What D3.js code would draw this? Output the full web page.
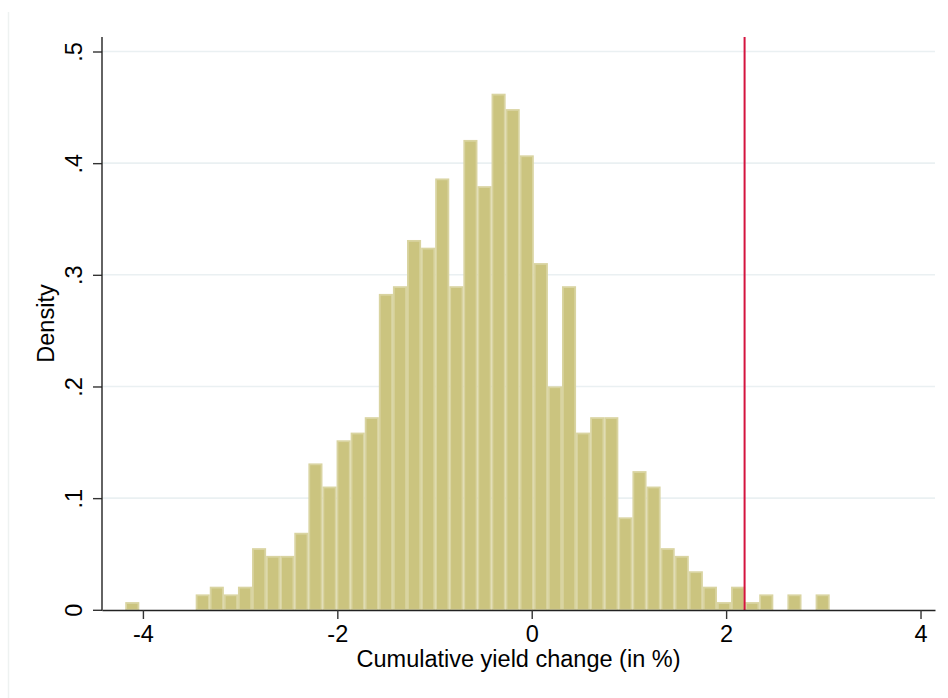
<!DOCTYPE html>
<html>
<head>
<meta charset="utf-8">
<script src="https://cdn.jsdelivr.net/npm/d3@7"></script>
<style>
  html, body { margin: 0; padding: 0; background: #ffffff; }
  svg { display: block; }
  text { font-family: "Liberation Sans", Arial, Helvetica, sans-serif; fill: #000; }
</style>
</head>
<body>
<svg id="chart" width="948" height="698"></svg>
<script>
// Histogram of simulated cumulative yield changes (N = 1000, 50 equal-width bins)
const binStart = -4.182;   // left edge of the first bin (in %)
const binWidth = 0.14495;  // bin width (in %)
const densities = [
  0.0069, 0, 0, 0, 0, 0.0138, 0.0207, 0.0138, 0.0207, 0.0552,
  0.0483, 0.0483, 0.0690, 0.1311, 0.1104, 0.1518, 0.1587, 0.1725, 0.2829, 0.2898,
  0.3312, 0.3243, 0.3863, 0.2898, 0.4208, 0.3794, 0.4622, 0.4484, 0.4070, 0.3105,
  0.2001, 0.2898, 0.1587, 0.1725, 0.1725, 0.0828, 0.1242, 0.1104, 0.0552, 0.0483,
  0.0345, 0.0207, 0.0069, 0.0207, 0.0069, 0.0138, 0, 0.0138, 0, 0.0138
];
const observedChange = 2.19;   // reference value marked with a vertical line
const xTicks = [-4, -2, 0, 2, 4];
const xTickLabels = ["-4", "-2", "0", "2", "4"];
const yTicks = [0, 0.1, 0.2, 0.3, 0.4, 0.5];
const yTickLabels = ["0", ".1", ".2", ".3", ".4", ".5"];
const xTitle = "Cumulative yield change (in %)";
const yTitle = "Density";

const bins = densities.map((d, i) => ({
  x0: binStart + i * binWidth,
  x1: binStart + (i + 1) * binWidth,
  density: d
}));

const svg = d3.select("#chart");
const plot = { left: 102, right: 935, top: 37, bottom: 610 };

const x = d3.scaleLinear().domain([-4.421, 4.149]).range([plot.left, plot.right]);
const y = d3.scaleLinear().domain([0, 0.5]).range([609.8, 51.5]);

// faint outer frame on the left edge
svg.append("line")
  .attr("x1", 8.5).attr("x2", 8.5).attr("y1", 12).attr("y2", 698)
  .attr("stroke", "#eef2f1").attr("stroke-width", 1.5);

// horizontal grid lines
svg.append("g").selectAll("line")
  .data(yTicks.filter(t => t > 0))
  .join("line")
  .attr("x1", plot.left).attr("x2", plot.right)
  .attr("y1", d => y(d)).attr("y2", d => y(d))
  .attr("stroke", "#eaf0f2").attr("stroke-width", 1.6);

// bars
svg.append("g").selectAll("rect")
  .data(bins.filter(b => b.density > 0))
  .join("rect")
  .attr("x", d => x(d.x0) + 0.9)
  .attr("width", d => x(d.x1) - x(d.x0) - 1.8)
  .attr("y", d => y(d.density) + 0.9)
  .attr("height", d => y(0) - y(d.density) - 0.9)
  .attr("fill", "#cbc47f")
  .attr("stroke", "#d9d4a1")
  .attr("stroke-width", 1.8);

// vertical reference line
svg.append("line")
  .attr("x1", x(observedChange)).attr("x2", x(observedChange))
  .attr("y1", plot.top).attr("y2", plot.bottom)
  .attr("stroke", "#d4143f").attr("stroke-width", 2);

const fontSize = 23.5;

// x axis
const xAxis = svg.append("g")
  .attr("transform", `translate(0,${plot.bottom})`)
  .call(d3.axisBottom(x).tickValues(xTicks)
    .tickFormat((d, i) => xTickLabels[i]).tickSize(9).tickSizeOuter(0));
xAxis.select(".domain").attr("stroke", "#222").attr("stroke-width", 1.4);
xAxis.selectAll(".tick line").attr("stroke", "#333").attr("stroke-width", 1.4);
xAxis.selectAll(".tick text")
  .attr("y", 32).attr("dy", null)
  .style("font-size", fontSize + "px")
  .style("font-family", '"Liberation Sans", Arial, sans-serif')
  .attr("fill", "#000");

// y axis
const yAxis = svg.append("g")
  .attr("transform", `translate(${plot.left},0)`)
  .call(d3.axisLeft(y).tickValues(yTicks)
    .tickFormat((d, i) => yTickLabels[i]).tickSize(9).tickSizeOuter(0));
yAxis.select(".domain").remove();
yAxis.append("line")
  .attr("x1", 0).attr("x2", 0).attr("y1", plot.top).attr("y2", plot.bottom + 0.7)
  .attr("stroke", "#222").attr("stroke-width", 1.4);
yAxis.selectAll(".tick line").attr("stroke", "#333").attr("stroke-width", 1.4);
yAxis.selectAll(".tick text")
  .attr("x", null).attr("dy", null)
  .attr("text-anchor", "middle")
  .attr("transform", "translate(-20,0) rotate(-90)")
  .style("font-size", fontSize + "px")
  .style("font-family", '"Liberation Sans", Arial, sans-serif')
  .attr("fill", "#000");

// axis titles
svg.append("text")
  .attr("x", (plot.left + plot.right) / 2).attr("y", 667)
  .attr("text-anchor", "middle")
  .style("font-size", fontSize + "px")
  .text(xTitle);

svg.append("text")
  .attr("transform", `translate(54,${(plot.top + plot.bottom) / 2}) rotate(-90)`)
  .attr("text-anchor", "middle")
  .style("font-size", fontSize + "px")
  .text(yTitle);
</script>
</body>
</html>
